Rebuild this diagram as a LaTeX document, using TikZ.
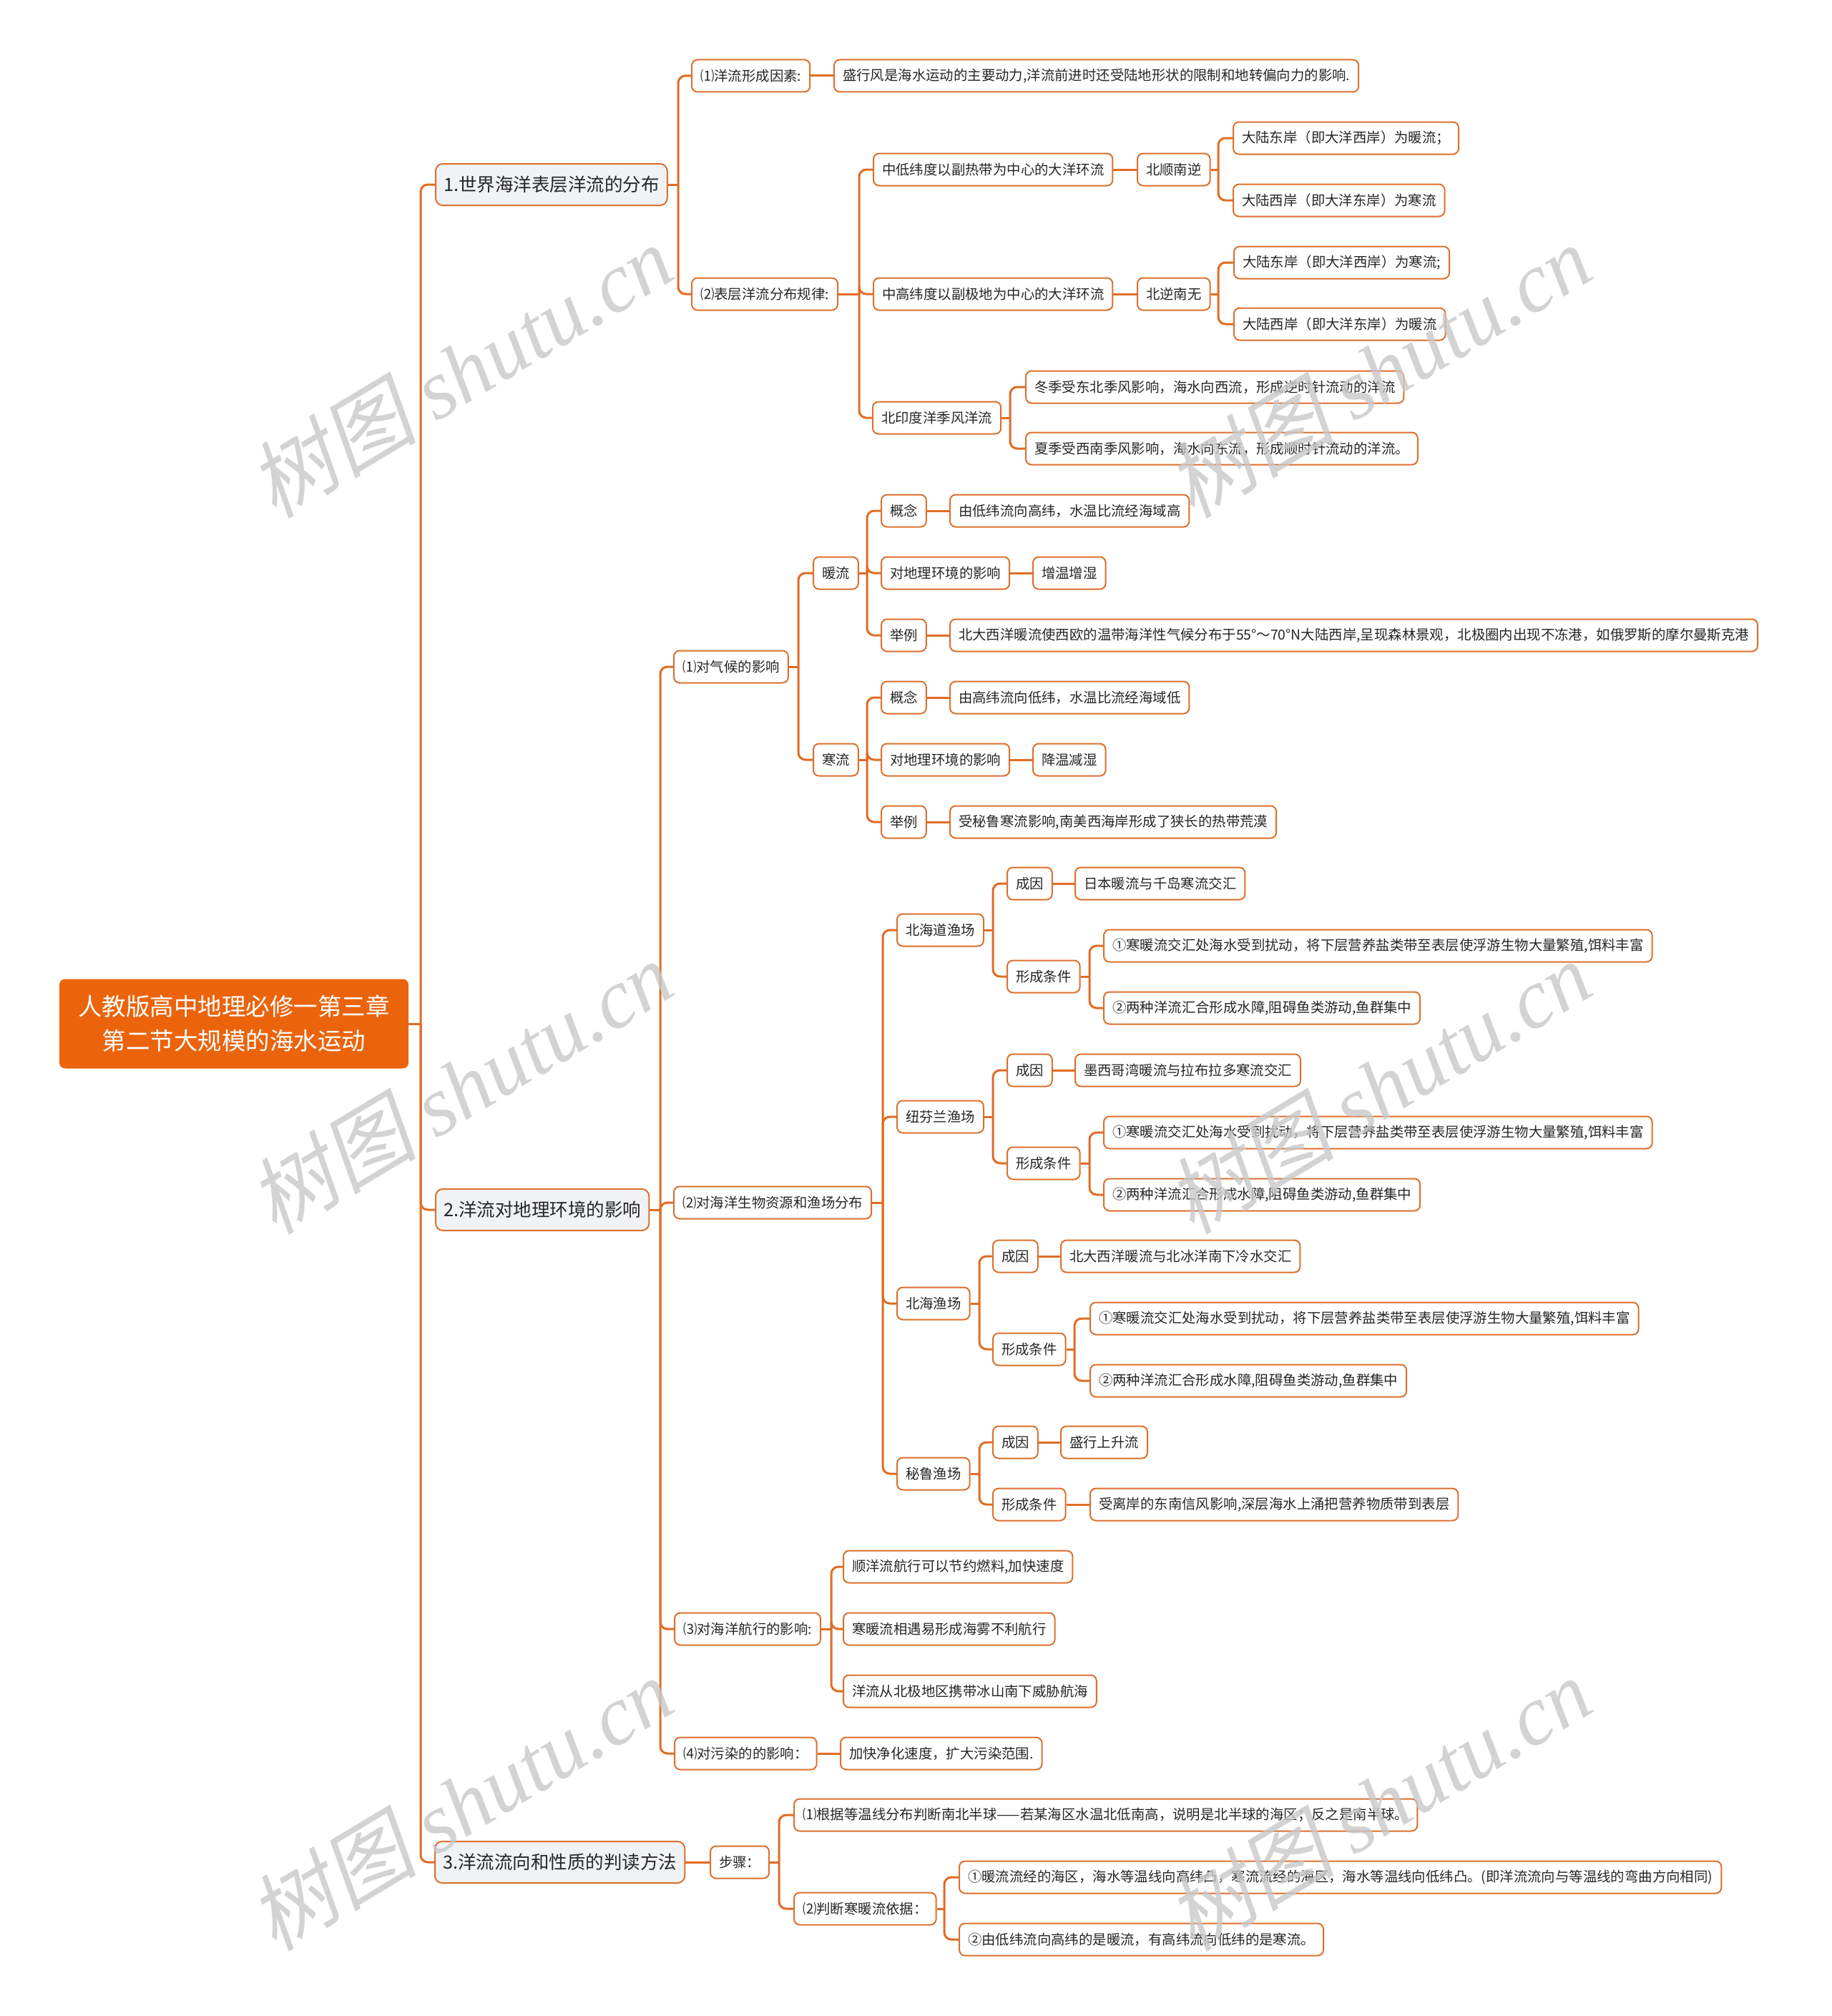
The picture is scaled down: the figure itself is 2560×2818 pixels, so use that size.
\documentclass[tikz,border=0pt]{standalone}
\usepackage{fontspec}
\setmainfont{Noto Sans CJK SC}
\newfontfamily\wmcjk{Noto Sans CJK SC}[FakeSlant=0.2]
\newfontfamily\wmlat{Liberation Serif}
\usetikzlibrary{calc}
\definecolor{lineor}{RGB}{224,108,36}
\definecolor{bordor}{RGB}{220,112,45}
\definecolor{rootor}{RGB}{235,100,12}
\definecolor{lvfill}{RGB}{240,242,245}
\definecolor{txt}{RGB}{38,38,38}
\definecolor{wm}{RGB}{200,200,200}
\newcommand\mmfork[3]{%
  \path let \p1=(#1.east) in coordinate (s#1) at (#2pt,\y1);
  \draw[link] (#1.east) -- (s#1);
  \foreach \c in {#3} {\draw[link,rounded corners=10pt] (s#1) |- (\c.west);}
}
\begin{document}
\begin{tikzpicture}[x=1pt,y=-1pt,
  sm/.style={draw=bordor, line width=2pt, fill=white, rounded corners=8pt, anchor=west,
    minimum height=45pt, inner xsep=12pt, inner ysep=0pt, text=txt,
    font=\fontsize{19.4}{23}\selectfont},
  lv/.style={sm, fill=lvfill, minimum height=58pt, inner xsep=11pt, rounded corners=10pt,
    font=\fontsize{25.5}{30}\selectfont},
  rootbox/.style={fill=rootor, rounded corners=8pt, minimum width=488pt, minimum height=125pt,
    text=white, align=center, font=\fontsize{33.5}{48}\selectfont, inner sep=0pt},
  link/.style={draw=lineor, line width=3pt},
  wmk/.style={text=wm, rotate=31, opacity=0.8, font=\fontsize{118}{118}\selectfont}
]
\useasboundingbox (0,0) rectangle (2560,2818);

% root and level 1
\node[rootbox] (R) at (327,1431) {人教版高中地理必修一第三章\\第二节大规模的海水运动};
\node[lv] (A1) at (608,258) {1.世界海洋表层洋流的分布};
\node[lv] (A2) at (608,1691) {2.洋流对地理环境的影响};
\node[lv] (A3) at (607,2603) {3.洋流流向和性质的判读方法};

% section 1
\node[sm] (B1) at (966,106) {⑴洋流形成因素:};
\node[sm] (C1) at (1165,106) {盛行风是海水运动的主要动力,洋流前进时还受陆地形状的限制和地转偏向力的影响.};
\node[sm] (B2) at (966,411) {⑵表层洋流分布规律:};
\node[sm] (C2) at (1220,237) {中低纬度以副热带为中心的大洋环流};
\node[sm] (D1) at (1589,237) {北顺南逆};
\node[sm] (E1) at (1723,193) {大陆东岸（即大洋西岸）为暖流；};
\node[sm] (E2) at (1723,280) {大陆西岸（即大洋东岸）为寒流};
\node[sm] (C3) at (1220,411) {中高纬度以副极地为中心的大洋环流};
\node[sm] (D2) at (1589,411) {北逆南无};
\node[sm] (E3) at (1724,367) {大陆东岸（即大洋西岸）为寒流;};
\node[sm] (E4) at (1724,453) {大陆西岸（即大洋东岸）为暖流};
\node[sm] (C4) at (1219,584) {北印度洋季风洋流};
\node[sm] (E5) at (1433,541) {冬季受东北季风影响，海水向西流，形成逆时针流动的洋流};
\node[sm] (E6) at (1433,627) {夏季受西南季风影响，海水向东流，形成顺时针流动的洋流。};

% section 2 (1)
\node[sm] (F1) at (941,932) {⑴对气候的影响};
\node[sm] (G1) at (1136,801) {暖流};
\node[sm] (H1) at (1231,714) {概念};
\node[sm] (I1) at (1327,714) {由低纬流向高纬，水温比流经海域高};
\node[sm] (H2) at (1231,801) {对地理环境的影响};
\node[sm] (I2) at (1443,801) {增温增湿};
\node[sm] (H3) at (1231,888) {举例};
\node[sm] (I3) at (1327,888) {北大西洋暖流使西欧的温带海洋性气候分布于55°～70°N大陆西岸,呈现森林景观，北极圈内出现不冻港，如俄罗斯的摩尔曼斯克港};
\node[sm] (G2) at (1136,1062) {寒流};
\node[sm] (H4) at (1231,975) {概念};
\node[sm] (I4) at (1327,975) {由高纬流向低纬，水温比流经海域低};
\node[sm] (H5) at (1231,1062) {对地理环境的影响};
\node[sm] (I5) at (1443,1062) {降温减湿};
\node[sm] (H6) at (1231,1149) {举例};
\node[sm] (I6) at (1327,1149) {受秘鲁寒流影响,南美西海岸形成了狭长的热带荒漠};

% section 2 (2)
\node[sm] (F2) at (941,1681) {⑵对海洋生物资源和渔场分布};
\node[sm] (J1) at (1253,1300) {北海道渔场};
\node[sm] (K1) at (1407,1235) {成因};
\node[sm] (L1) at (1502,1235) {日本暖流与千岛寒流交汇};
\node[sm] (K2) at (1407,1365) {形成条件};
\node[sm] (L2) at (1542,1322) {①寒暖流交汇处海水受到扰动，将下层营养盐类带至表层使浮游生物大量繁殖,饵料丰富};
\node[sm] (L3) at (1542,1409) {②两种洋流汇合形成水障,阻碍鱼类游动,鱼群集中};
\node[sm] (J2) at (1253,1561) {纽芬兰渔场};
\node[sm] (K3) at (1407,1496) {成因};
\node[sm] (L4) at (1502,1496) {墨西哥湾暖流与拉布拉多寒流交汇};
\node[sm] (K4) at (1407,1626) {形成条件};
\node[sm] (L5) at (1542,1583) {①寒暖流交汇处海水受到扰动，将下层营养盐类带至表层使浮游生物大量繁殖,饵料丰富};
\node[sm] (L6) at (1542,1670) {②两种洋流汇合形成水障,阻碍鱼类游动,鱼群集中};
\node[sm] (J3) at (1253,1822) {北海渔场};
\node[sm] (K5) at (1387,1756) {成因};
\node[sm] (L7) at (1482,1756) {北大西洋暖流与北冰洋南下冷水交汇};
\node[sm] (K6) at (1387,1886) {形成条件};
\node[sm] (L8) at (1523,1843) {①寒暖流交汇处海水受到扰动，将下层营养盐类带至表层使浮游生物大量繁殖,饵料丰富};
\node[sm] (L9) at (1523,1930) {②两种洋流汇合形成水障,阻碍鱼类游动,鱼群集中};
\node[sm] (J4) at (1253,2060) {秘鲁渔场};
\node[sm] (K7) at (1387,2016) {成因};
\node[sm] (L10) at (1482,2016) {盛行上升流};
\node[sm] (K8) at (1387,2103) {形成条件};
\node[sm] (L11) at (1523,2103) {受离岸的东南信风影响,深层海水上涌把营养物质带到表层};

% section 2 (3)(4)
\node[sm] (F3) at (942,2277) {⑶对海洋航行的影响:};
\node[sm] (M1) at (1178,2190) {顺洋流航行可以节约燃料,加快速度};
\node[sm] (M2) at (1178,2277) {寒暖流相遇易形成海雾不利航行};
\node[sm] (M3) at (1178,2364) {洋流从北极地区携带冰山南下威胁航海};
\node[sm] (F4) at (942,2451) {⑷对污染的的影响：};
\node[sm] (M4) at (1174,2451) {加快净化速度，扩大污染范围.};

% section 3
\node[sm] (N1) at (992,2603) {步骤：};
\node[sm] (O1) at (1109,2537) {⑴根据等温线分布判断南北半球——若某海区水温北低南高，说明是北半球的海区；反之是南半球。};
\node[sm] (O2) at (1109,2668) {⑵判断寒暖流依据：};
\node[sm] (P1) at (1340,2624) {①暖流流经的海区，海水等温线向高纬凸，寒流流经的海区，海水等温线向低纬凸。(即洋流流向与等温线的弯曲方向相同)};
\node[sm] (P2) at (1340,2711) {②由低纬流向高纬的是暖流，有高纬流向低纬的是寒流。};

% connectors
\mmfork{R}{588}{A1,A2,A3}
\mmfork{A1}{948}{B1,B2}
\mmfork{B2}{1201}{C2,C3,C4}
\mmfork{D1}{1703}{E1,E2}
\mmfork{D2}{1703}{E3,E4}
\mmfork{C4}{1412}{E5,E6}
\mmfork{A2}{923}{F1,F2,F3,F4}
\mmfork{F1}{1116}{G1,G2}
\mmfork{G1}{1212}{H1,H2,H3}
\mmfork{G2}{1212}{H4,H5,H6}
\mmfork{F2}{1234}{J1,J2,J3,J4}
\mmfork{J1}{1388}{K1,K2}
\mmfork{K2}{1523}{L2,L3}
\mmfork{J2}{1388}{K3,K4}
\mmfork{K4}{1523}{L5,L6}
\mmfork{J3}{1369}{K5,K6}
\mmfork{K6}{1502}{L8,L9}
\mmfork{J4}{1369}{K7,K8}
\mmfork{F3}{1162}{M1,M2,M3}
\mmfork{N1}{1089}{O1,O2}
\mmfork{O2}{1320}{P1,P2}
\foreach \a/\b in {B1/C1,C2/D1,C3/D2,H1/I1,H2/I2,H3/I3,H4/I4,H5/I5,H6/I6,K1/L1,K3/L4,K5/L7,K7/L10,K8/L11,F4/M4,A3/N1}
  {\draw[link] (\a.east) -- (\b.west);}

% watermarks
\foreach \i/\px/\py in {1/644/518,2/1927/518,3/644/1519,4/1927/1519,5/644/2521,6/1927/2521}
  {\node[wmk] (W\i) at (\px,\py) {{\wmcjk 树图} {\wmlat\itshape shutu.cn}};}
\end{tikzpicture}
\end{document}
